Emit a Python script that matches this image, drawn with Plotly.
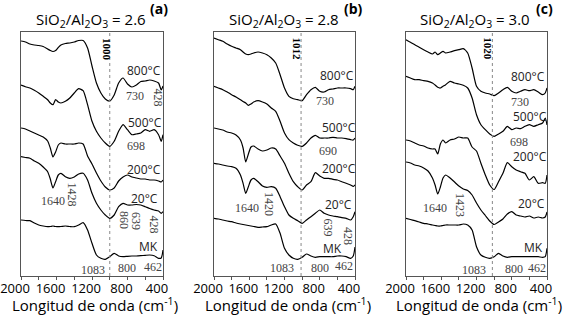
import plotly.graph_objects as go

# ---------------- data ----------------
wavenumber = [2000, 1950, 1900, 1850, 1800, 1750, 1700, 1670, 1640, 1610, 1580, 1550,
              1500, 1450, 1400, 1350, 1300, 1250, 1200, 1150, 1100, 1050, 1000, 950,
              900, 850, 800, 750, 700, 650, 600, 550, 500, 450, 420, 400]

# panel (a) SiO2/Al2O3 = 2.6
a_800 = [235, 234, 232, 231, 230.5, 229.5, 227, 225.5, 224.5, 225.5, 228.5, 231,
         232.5, 233, 234, 235.5, 235.5, 228, 210, 193, 183, 177, 175, 181,
         193, 198, 192, 189, 191, 194.5, 195, 196, 195, 193, 186, 190]
a_500 = [191, 189.3, 188, 185.7, 183, 179.7, 176.3, 173, 171.3, 176.3, 174, 173,
         174.7, 178, 183, 187.3, 185.3, 171.3, 154.7, 144.7, 138, 133, 129.7, 134.7,
         144.7, 151.3, 146.3, 141.3, 142, 143, 146.3, 144.7, 146.3, 141.3, 134.7, 141.3]
a_200 = [148, 147, 145, 143, 141, 139, 135, 128, 119, 124, 131, 133,
         132, 132, 132, 133, 132, 120, 112, 103, 95, 89, 86, 88,
         95, 99, 101, 99, 98, 97, 97, 96, 96, 95, 94, 96]
a_20 = [119.3, 118.5, 117.7, 115, 112.7, 109, 104.3, 97, 88, 94.3, 101, 102.7,
        99.3, 97.7, 99, 102, 102.7, 96, 82.7, 72.7, 66, 61, 57.7, 61,
        69.3, 72.7, 71, 71, 71.5, 71, 69.3, 67.5, 66, 65, 62.7, 64.3]
a_mk = [56, 55.5, 55.3, 53, 51, 50, 49.3, 49.5, 50, 49.5, 49.3, 49.5,
        50, 49.5, 49.3, 51, 53.3, 46, 32.7, 21, 17.7, 16.7, 19.3, 22.7,
        20, 19.3, 19.7, 20, 20, 20.3, 20.7, 21, 20.3, 17.7, 18, 26]

# panel (b) SiO2/Al2O3 = 2.8
b_800 = [238, 236.3, 234.7, 232, 229.7, 228, 226.3, 224, 222, 221.3, 222, 223,
         224, 223, 221.3, 218, 213, 201.3, 188, 179.7, 177.3, 176.3, 175.3, 181.3,
         186.3, 188.7, 184.7, 184, 186.3, 187, 188, 188, 188, 187.3, 186.3, 189.7]
b_500 = [189.7, 188, 186.3, 184, 181.3, 179, 176.3, 174.5, 173, 170.7, 172, 174,
         175.3, 174, 172, 168, 164.7, 154.7, 143, 136.3, 133, 130.7, 129.7, 133,
         138, 140.7, 138, 138, 138, 138.7, 138, 138, 137.3, 136.3, 136, 138]
b_200 = [148, 147, 146, 144, 143, 141, 136, 128, 114, 122, 129, 130,
         127, 125, 126, 128, 127, 120, 112.7, 102.7, 94.3, 89.3, 86, 91,
         94.3, 103.3, 100, 97.7, 97.7, 96.7, 96, 94.3, 92.7, 91, 89.5, 91]
b_20 = [112.7, 112, 111, 110, 109.3, 107.7, 101, 92.7, 82.7, 89.3, 96, 97.7,
        94.3, 90, 88.7, 89.3, 87.7, 79.3, 69.3, 61, 57.7, 55.3, 52.7, 56,
        59.3, 62.7, 66, 62.7, 61, 60, 59.3, 58.3, 57.7, 56, 59.3, 64.3]
b_mk = [57.7, 57, 56, 55, 54.3, 53, 52, 51.5, 51, 50.5, 50, 49.5,
        48.7, 49, 49.3, 51, 52, 42.7, 27.7, 21, 17.7, 16.7, 18.7, 22,
        20, 18.7, 19.3, 19.3, 19.3, 19.3, 20, 20, 19.3, 17.7, 20, 29]

# panel (c) SiO2/Al2O3 = 3.0
c_800 = [236.3, 233.7, 231.3, 228.7, 226.3, 224, 222, 224, 221.3, 223, 224.7, 223,
         224, 225.3, 226.3, 227.3, 223, 208, 189.7, 184.7, 183, 182, 180.3, 183,
         186.3, 188.7, 184.7, 183, 184.7, 186.3, 185.3, 186.3, 184, 181.3, 183, 188]
c_500 = [199.7, 198, 196.3, 196.3, 195.3, 194.7, 193, 191, 188.7, 188, 189.7, 191.3,
         194.7, 193, 192, 190.7, 188, 178, 161.3, 151.3, 146.3, 142, 139.7, 142,
         144.7, 149.7, 146.3, 148, 147.3, 149.7, 151.3, 149.7, 151.3, 153, 158, 151]
c_200 = [136, 135, 133, 131, 130, 128, 127, 127, 122, 132, 136, 133,
         136, 137, 139, 138, 138, 129, 125, 112.7, 101, 91, 86.5, 94.3,
         102.7, 113.3, 109.3, 106, 104.3, 102.7, 96, 99.3, 92.7, 93.3, 92.7, 101]
c_20 = [114, 113, 111, 110, 108, 105, 98, 91, 82, 89, 98, 101,
        98, 94, 90, 87, 85.5, 81, 73, 66, 60.5, 55, 51.5, 54,
        57, 62, 64.3, 61, 60, 59, 60, 58, 59, 58, 59, 64]
c_mk = [57.7, 56.5, 55.3, 54, 52.7, 52, 51, 50.5, 50, 50, 50.5, 51,
        51, 51, 51, 52, 51, 46, 29.3, 21, 18.7, 17.7, 19.3, 22.7,
        20, 18.7, 19.3, 19.3, 19.3, 19.3, 19.3, 19.3, 19.3, 18.7, 19.3, 27.7]

ratios = ["2.6", "2.8", "3.0"]
panel_tags = ["(a)", "(b)", "(c)"]
marker_bands = [1000, 1012, 1020]
series = [[a_800, a_500, a_200, a_20, a_mk],
          [b_800, b_500, b_200, b_20, b_mk],
          [c_800, c_500, c_200, c_20, c_mk]]
tick_values = [2000, 1600, 1200, 800, 400]
tick_labels = ["2000", "1600", "1200", "800", "400"]

# label text per panel: (text, wavenumber, intensity, kind)
labels = [
    [("800°C", 614, 206, "t"), ("730", 710, 180, "n"), ("428", 451, 178, "r"),
     ("500°C", 603, 154, "t"), ("698", 699, 130, "n"), ("200°C", 614, 107, "t"),
     ("1640", 1645, 75, "n"), ("1428", 1431, 82, "r"), ("20°C", 608, 78, "t"),
     ("860", 839, 56, "r"), ("639", 704, 55, "r"), ("428", 496, 51, "r"),
     ("MK", 563, 30, "t"), ("1083", 1194, 6.5, "n"), ("800", 811, 8.5, "n"),
     ("462", 513, 9.5, "n")],
    [("800°C", 599, 201, "t"), ("730", 740, 175, "n"), ("500°C", 587, 149, "t"),
     ("690", 706, 125, "n"), ("200°C", 587, 108, "t"), ("1640", 1620, 68, "n"),
     ("1420", 1376, 72, "r"), ("20°C", 582, 72, "t"), ("639", 712, 49, "r"),
     ("428", 479, 40, "r"), ("MK", 655, 28, "t"), ("1083", 1234, 8.5, "n"),
     ("800", 797, 8.5, "n"), ("462", 525, 10, "n")],
    [("800°C", 610, 200, "t"), ("730", 706, 174, "n"), ("500°C", 593, 160, "t"),
     ("698", 718, 134, "n"), ("200°C", 593, 120, "t"), ("1640", 1671, 68, "n"),
     ("1423", 1387, 71, "r"), ("20°C", 576, 73, "t"), ("MK", 553, 28.5, "t"),
     ("1083", 1228, 6.5, "n"), ("800", 769, 7, "n"), ("462", 508, 8.5, "n")],
]

# ---------------- figure ----------------
W, H = 566, 319
domains = [(21, 163), (214, 355), (406, 547)]
plot_top, plot_bottom = 32, 276
PH = plot_bottom - plot_top


def py2paper(py):
    return (plot_bottom - py) / PH


fig = go.Figure()
annotations = []
shapes = []
layout = dict(
    width=W, height=H, paper_bgcolor="white", plot_bgcolor="white",
    margin=dict(l=0, r=0, t=plot_top, b=H - plot_bottom, autoexpand=False),
    showlegend=False,
)

title_x = [91, 284, 475]
tag_x = [159, 353, 544]
xtitle_x = [95, 288, 479]

for i in range(3):
    sfx = "" if i == 0 else str(i + 1)
    xref, yref = "x" + sfx, "y" + sfx
    for ys in series[i]:
        fig.add_trace(go.Scatter(x=wavenumber, y=ys, mode="lines", xaxis=xref, yaxis=yref,
                                 line=dict(color="black", width=1.2, shape="spline", smoothing=0.6),
                                 hoverinfo="skip", cliponaxis=False))
    d0, d1 = domains[i]
    layout["xaxis" + sfx] = dict(
        domain=[d0 / W, d1 / W], range=[2000, 400], anchor=yref,
        showline=True, mirror=True, linecolor="#555", linewidth=1,
        showgrid=False, zeroline=False, automargin=False,
        tickmode="array", tickvals=tick_values, ticktext=tick_labels, tickangle=0,
        ticks="outside", ticklen=3, tickcolor="#555", tickwidth=1,
        minor=dict(dtick=200, tick0=400, ticks="outside", ticklen=3, tickcolor="#555", showgrid=False),
        tickfont=dict(family="Open Sans", size=13, color="black"),
        ticklabelshift=6, ticklabelstandoff=-3, ticklabeloverflow="allow",
    )
    layout["yaxis" + sfx] = dict(
        domain=[0, 1], range=[0, 244], anchor=xref, automargin=False,
        showline=True, mirror=True, linecolor="#555", linewidth=1,
        showgrid=False, zeroline=False, showticklabels=False, ticks="",
    )
    shapes.append(dict(type="line", xref=xref, yref=yref + " domain",
                       x0=marker_bands[i], x1=marker_bands[i], y0=0, y1=1,
                       line=dict(color="#888", width=1, dash="dot")))
    annotations.append(dict(xref=xref, yref=yref, x=marker_bands[i] + 31 + 10 * i, y=227,
                            xanchor="center", yanchor="middle",
                            text="<b>%d</b>" % marker_bands[i], textangle=90, showarrow=False,
                            font=dict(family="Liberation Serif", size=11, color="black")))
    for text, xv, yv, kind in labels[i]:
        if kind == "t":
            font = dict(family="Open Sans", size=12, color="#222")
            ang = 0
        else:
            font = dict(family="Liberation Serif", size=12, color="#444")
            ang = 90 if kind == "r" else 0
        annotations.append(dict(xref=xref, yref=yref, x=xv, y=yv, text=text, textangle=ang,
                                xanchor="center", yanchor="middle",
                                showarrow=False, font=font))
    annotations.append(dict(xref="paper", yref="paper", x=title_x[i] / W, y=py2paper(20),
                            xanchor="center", yanchor="middle",
                            text="SiO<sub>2</sub>/Al<sub>2</sub>O<sub>3</sub> = " + ratios[i],
                            showarrow=False, font=dict(family="Open Sans", size=15, color="black")))
    annotations.append(dict(xref="paper", yref="paper", x=tag_x[i] / W, y=py2paper(8.5),
                            xanchor="center", yanchor="middle",
                            text="<b>" + panel_tags[i] + "</b>", showarrow=False,
                            font=dict(family="Open Sans", size=14, color="black")))
    annotations.append(dict(xref="paper", yref="paper", x=xtitle_x[i] / W, y=py2paper(304),
                            xanchor="center", yanchor="middle",
                            text="Longitud de onda (cm<sup>-1</sup>)", showarrow=False,
                            font=dict(family="Open Sans", size=15, color="black")))

layout["annotations"] = annotations
layout["shapes"] = shapes
fig.update_layout(**layout)
fig.write_html("out.html", config={"displayModeBar": False, "staticPlot": True},
               post_script="document.body.style.margin='0';document.body.style.overflow='hidden';")
